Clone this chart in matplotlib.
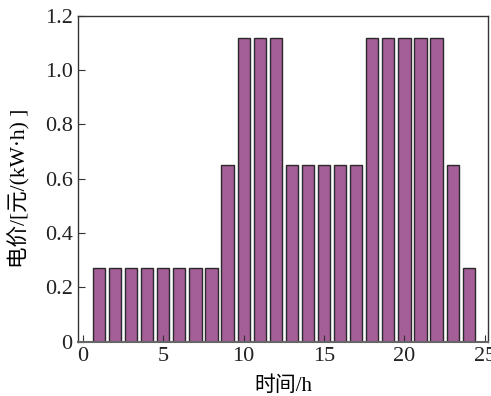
import matplotlib
matplotlib.use("Agg")
import matplotlib.pyplot as plt

plt.rcParams['font.family'] = ['Liberation Serif', 'Noto Sans CJK SC']

hours = list(range(1, 25))
prices = [0.27] * 8 + [0.65, 1.12, 1.12, 1.12, 0.65, 0.65, 0.65, 0.65, 0.65,
                       1.12, 1.12, 1.12, 1.12, 1.12, 0.65, 0.27]

fig = plt.figure(figsize=(4.91, 3.96), dpi=100)
ax = fig.add_axes([0.159, 0.137, 0.835, 0.823])
ax.bar(hours, prices, width=0.76, color="#a45e98", edgecolor="#2a2a2a", linewidth=1.0)

ax.set_xlim(-0.3, 25.2)
ax.set_ylim(0, 1.2)
ax.set_xticks([0, 5, 10, 15, 20, 25])
ax.set_yticks([0, 0.2, 0.4, 0.6, 0.8, 1.0, 1.2])
ax.set_yticklabels(["0", "0.2", "0.4", "0.6", "0.8", "1.0", "1.2"])
ax.tick_params(direction="in", labelsize=16, length=5, width=0.8, colors="#333333",
               labelcolor="#222222", pad=4)
for s in ax.spines.values():
    s.set_color("#333333")
    s.set_linewidth(1.0)
ax.spines["bottom"].set_linewidth(1.5)
ax.spines["bottom"].set_color("#666666")

ax.set_xlabel("时间/h", fontsize=15, labelpad=7)
ax.set_ylabel("电价/[元/(kW·h) ]", fontsize=15.5)
ax.yaxis.set_label_coords(-0.115, 0.47)

fig.savefig("out.png", dpi=100)
